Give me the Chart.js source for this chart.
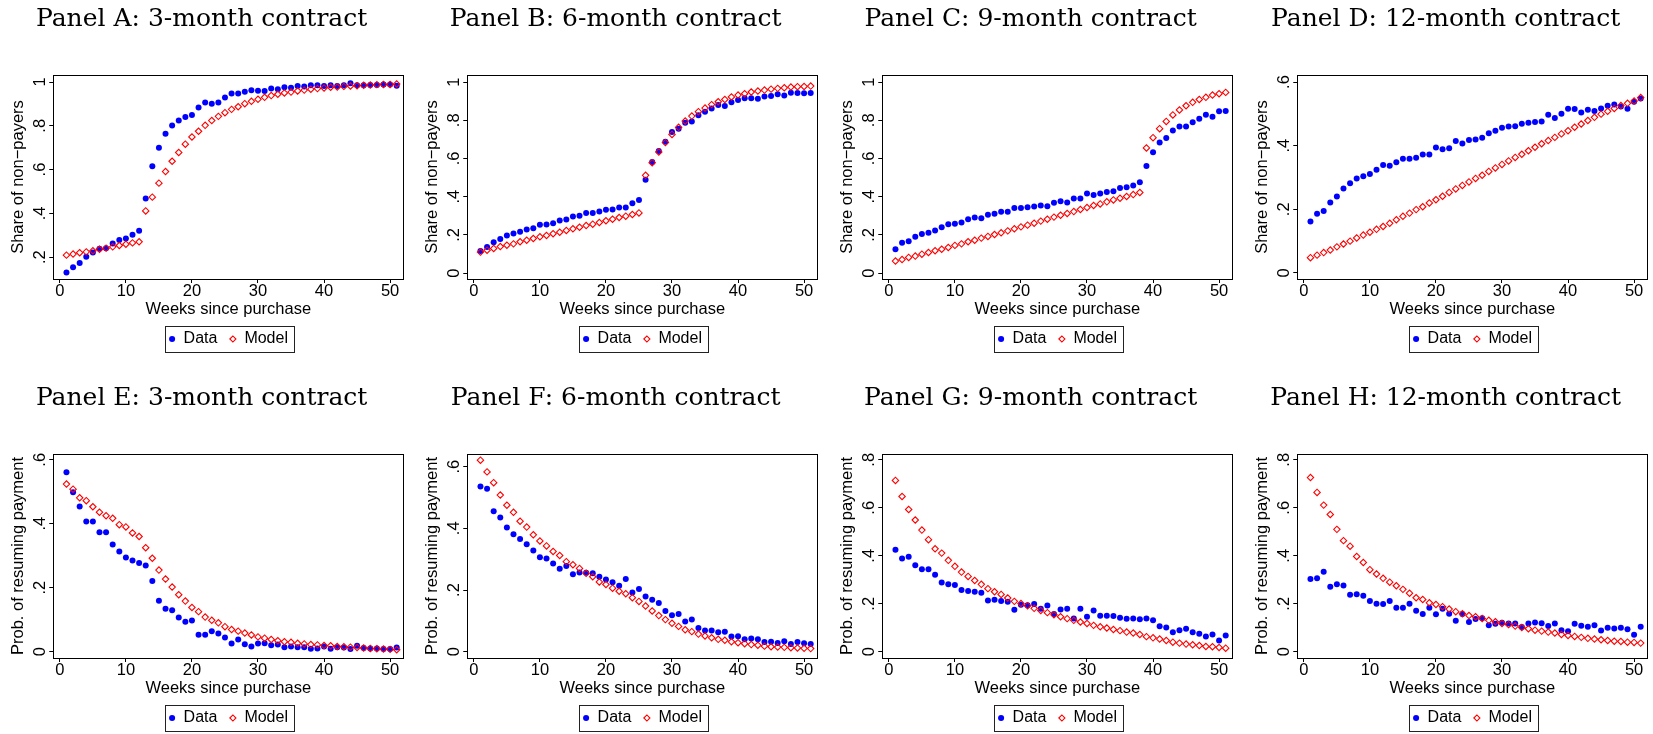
<!DOCTYPE html>
<html lang="en">
<head>
    <meta charset="UTF-8">
    <title>Share of non-payers and probability of resuming payment</title>
    <script src="https://cdn.jsdelivr.net/npm/chart.js"></script>
    <style>
        body { margin: 0; background: #fff; width: 1653px; height: 734px; overflow: hidden; position: relative; }
        canvas { position: absolute; }
    </style>
</head>
<body>
    <canvas id="panelA" width="409" height="357" style="left:0px;top:0px"></canvas>
    <canvas id="panelB" width="409" height="357" style="left:414px;top:0px"></canvas>
    <canvas id="panelC" width="409" height="357" style="left:829px;top:0px"></canvas>
    <canvas id="panelD" width="409" height="357" style="left:1244px;top:0px"></canvas>
    <canvas id="panelE" width="409" height="357" style="left:0px;top:379px"></canvas>
    <canvas id="panelF" width="409" height="357" style="left:414px;top:379px"></canvas>
    <canvas id="panelG" width="409" height="357" style="left:829px;top:379px"></canvas>
    <canvas id="panelH" width="409" height="357" style="left:1244px;top:379px"></canvas>

    <script>
        const weeks = [1, 2, 3, 4, 5, 6, 7, 8, 9, 10, 11, 12, 13, 14, 15, 16, 17, 18, 19, 20,
            21, 22, 23, 24, 25, 26, 27, 28, 29, 30, 31, 32, 33, 34, 35, 36, 37, 38, 39, 40,
            41, 42, 43, 44, 45, 46, 47, 48, 49, 50, 51];
        const xTicks = [0, 10, 20, 30, 40, 50];

        // Share of non-payers (top row)
        const dataA = [.130, .154, .173, .202, .221, .238, .240, .262, .278, .285, .302, .320, .468, .615, .700, .764, .801, .824, .840, .849,
            .884, .906, .901, .906, .929, .948, .947, .956, .962, .960, .959, .970, .967, .976, .974, .982, .979, .985, .985, .982,
            .985, .982, .985, .994, .985, .985, .986, .986, .989, .989, .983];
        const modelA = [.209, .214, .220, .224, .229, .236, .241, .247, .253, .259, .265, .270, .411, .474, .538, .591, .638, .678, .716, .749,
            .775, .802, .824, .843, .860, .875, .887, .901, .912, .921, .930, .938, .944, .950, .954, .959, .963, .967, .970, .973,
            .976, .977, .980, .982, .983, .985, .986, .988, .989, .989, .991];

        const dataB = [.115, .136, .162, .179, .197, .207, .216, .228, .235, .253, .254, .261, .275, .280, .296, .300, .314, .315, .322, .331,
            .333, .343, .343, .366, .383, .488, .582, .639, .688, .739, .756, .787, .793, .826, .845, .861, .880, .875, .894, .906,
            .915, .915, .913, .925, .927, .936, .930, .944, .943, .941, .943];
        const modelB = [.110, .120, .129, .139, .146, .153, .164, .172, .181, .190, .197, .206, .214, .223, .232, .240, .249, .256, .265, .274,
            .282, .291, .298, .307, .315, .512, .578, .634, .683, .726, .763, .796, .822, .845, .864, .882, .897, .909, .922, .932,
            .939, .948, .953, .958, .963, .967, .970, .974, .976, .977, .979];

        const dataC = [.125, .159, .166, .190, .204, .211, .223, .240, .256, .258, .265, .282, .291, .287, .305, .310, .321, .321, .341, .341,
            .345, .348, .354, .350, .368, .376, .369, .390, .390, .416, .409, .416, .425, .429, .446, .449, .458, .476, .561, .632,
            .683, .707, .747, .767, .767, .789, .808, .829, .819, .847, .848];
        const modelC = [.063, .071, .082, .089, .099, .108, .117, .125, .134, .145, .153, .164, .172, .183, .192, .202, .211, .221, .232, .242,
            .251, .261, .272, .282, .293, .303, .312, .322, .333, .343, .354, .362, .373, .383, .392, .401, .411, .422, .655, .709,
            .756, .794, .828, .854, .876, .894, .909, .920, .932, .939, .946];

        const dataD = [.162, .186, .195, .221, .240, .265, .282, .297, .304, .311, .324, .339, .337, .348, .359, .359, .362, .372, .372, .394,
            .389, .392, .415, .407, .418, .419, .425, .439, .447, .456, .460, .461, .469, .472, .474, .476, .497, .487, .500, .516,
            .515, .504, .513, .509, .517, .525, .529, .523, .516, .538, .548];
        const modelD = [.048, .056, .064, .072, .082, .091, .100, .110, .119, .128, .137, .146, .156, .167, .178, .188, .199, .208, .220, .230,
            .241, .253, .264, .275, .286, .297, .307, .319, .330, .341, .352, .363, .373, .384, .395, .406, .416, .426, .437, .447,
            .458, .468, .479, .489, .499, .508, .517, .526, .533, .540, .551];

        // Probability of resuming payment (bottom row)
        const dataE = [.561, .498, .454, .407, .407, .373, .373, .335, .313, .294, .285, .277, .269, .221, .159, .134, .129, .107, .093, .097,
            .053, .053, .064, .057, .044, .025, .038, .023, .016, .025, .026, .020, .022, .014, .016, .014, .014, .009, .010, .016,
            .009, .014, .013, .008, .018, .011, .010, .010, .008, .008, .013];
        const modelE = [.524, .508, .481, .472, .453, .436, .425, .417, .397, .390, .371, .360, .325, .292, .255, .227, .202, .178, .158, .138,
            .125, .108, .098, .090, .078, .069, .064, .058, .052, .046, .042, .038, .034, .031, .029, .026, .024, .022, .021, .019,
            .018, .016, .015, .014, .013, .011, .010, .009, .008, .007, .006];

        const dataF = [.536, .528, .455, .435, .403, .381, .365, .348, .328, .306, .302, .286, .269, .278, .251, .257, .256, .254, .243, .234,
            .225, .214, .236, .192, .203, .179, .168, .158, .132, .118, .122, .098, .104, .077, .069, .069, .063, .065, .049, .050,
            .040, .043, .040, .031, .032, .028, .034, .025, .031, .027, .025];
        const modelF = [.621, .583, .548, .508, .475, .452, .423, .404, .379, .359, .343, .325, .312, .292, .282, .270, .254, .243, .226, .218,
            .206, .196, .188, .175, .163, .148, .132, .117, .104, .092, .082, .071, .065, .057, .051, .045, .040, .037, .032, .029,
            .026, .023, .021, .018, .016, .015, .014, .013, .012, .011, .010];

        const dataG = [.425, .389, .396, .360, .344, .344, .321, .289, .281, .278, .257, .253, .250, .246, .214, .217, .211, .208, .175, .196,
            .194, .199, .179, .193, .157, .176, .179, .139, .179, .146, .172, .150, .150, .149, .142, .138, .139, .135, .139, .131,
            .106, .101, .081, .090, .096, .081, .075, .064, .072, .047, .068];
        const modelG = [.714, .647, .593, .549, .507, .467, .429, .411, .381, .356, .332, .314, .297, .281, .263, .250, .239, .224, .210, .201,
            .192, .181, .172, .163, .154, .146, .138, .131, .124, .118, .110, .104, .099, .093, .088, .082, .078, .072, .063, .058,
            .053, .047, .040, .036, .032, .029, .026, .022, .021, .018, .015];

        const dataH = [.303, .306, .333, .271, .281, .276, .238, .240, .233, .211, .200, .199, .211, .183, .183, .200, .171, .157, .183, .156,
            .179, .158, .129, .157, .124, .136, .140, .110, .117, .121, .118, .118, .103, .118, .122, .119, .107, .118, .090, .085,
            .117, .108, .104, .110, .089, .100, .097, .100, .094, .071, .104];
        const modelH = [.726, .664, .611, .572, .510, .463, .440, .397, .372, .342, .324, .306, .290, .275, .260, .244, .225, .218, .204, .197,
            .188, .178, .167, .158, .151, .146, .139, .131, .125, .118, .113, .107, .101, .096, .090, .086, .082, .078, .072, .068,
            .064, .060, .056, .053, .050, .047, .044, .043, .040, .039, .036];

        const ticksTo1 = [0, .2, .4, .6, .8, 1];
        const ticksTo06 = [0, .2, .4, .6];
        const ticksTo08 = [0, .2, .4, .6, .8];
        const ticksA = [.2, .4, .6, .8, 1];

        const sansFont = "'Liberation Sans', Arial, sans-serif";

        // Stata style tick labels: ".2" rather than "0.2"
        function stataLabel(v) {
            return String(+v.toFixed(2)).replace(/^0\./, '.');
        }

        // plot frame, vertical y tick labels and the legend box
        const stataLook = {
            id: 'stataLook',
            afterDraw(chart) {
                const ctx = chart.ctx;
                const a = chart.chartArea;
                const y = chart.scales.y;
                ctx.save();
                ctx.strokeStyle = '#000';
                ctx.lineWidth = 1;
                ctx.strokeRect(Math.round(a.left) + 0.5, Math.round(a.top) + 0.5,
                    Math.round(a.right - a.left), Math.round(a.bottom - a.top));

                ctx.fillStyle = '#000';
                ctx.font = '16.5px ' + sansFont;
                ctx.textAlign = 'center';
                ctx.textBaseline = 'alphabetic';
                y.ticks.forEach(t => {
                    ctx.save();
                    ctx.translate(a.left - 8.5, y.getPixelForValue(t.value));
                    ctx.rotate(-Math.PI / 2);
                    ctx.fillText(stataLabel(t.value), 0, 0);
                    ctx.restore();
                });

                const hb = chart.legend.legendHitBoxes;
                if (hb && hb.length) {
                    const left = Math.min(...hb.map(h => h.left)) - 4;
                    const right = Math.max(...hb.map(h => h.left + h.width)) + 6;
                    const top = hb[0].top - 5;
                    ctx.strokeStyle = '#222';
                    ctx.strokeRect(Math.round(left) + 0.5, Math.round(top) + 0.5,
                        Math.round(right - left), Math.round(hb[0].height + 10));
                }
                ctx.restore();
            }
        };

        function makePanel(id, title, yTitle, dataVals, modelVals, yMin, yMax, yTicks) {
            new Chart(document.getElementById(id), {
                type: 'scatter',
                data: {
                    datasets: [{
                        label: 'Data',
                        data: weeks.map((w, i) => ({ x: w, y: dataVals[i] })),
                        pointStyle: 'circle',
                        pointRadius: 3,
                        borderWidth: 0,
                        backgroundColor: '#0000ff',
                        borderColor: '#0000ff',
                        order: 1
                    }, {
                        label: 'Model',
                        data: weeks.map((w, i) => ({ x: w, y: modelVals[i] })),
                        pointStyle: 'rectRot',
                        pointRadius: 3.2,
                        borderWidth: 1.1,
                        backgroundColor: 'rgba(255,255,255,0)',
                        borderColor: '#ff0000',
                        order: 0
                    }]
                },
                options: {
                    responsive: false,
                    animation: false,
                    events: [],
                    layout: { padding: { left: 0, right: 5.7, top: 0, bottom: 0 } },
                    plugins: {
                        tooltip: { enabled: false },
                        title: {
                            display: true,
                            text: title,
                            color: '#000',
                            font: { family: "'DejaVu Serif', serif", size: 25, weight: 'normal', lineHeight: 1.2 },
                            padding: { top: 4, bottom: 41 }
                        },
                        legend: {
                            position: 'bottom',
                            fullSize: false,
                            labels: {
                                usePointStyle: true,
                                boxWidth: 7,
                                boxHeight: 4.3,
                                padding: 12,
                                color: '#000',
                                font: { family: sansFont, size: 16 },
                                sort: (a, b) => a.datasetIndex - b.datasetIndex
                            }
                        }
                    },
                    scales: {
                        x: {
                            type: 'linear',
                            min: -1,
                            max: 52,
                            afterBuildTicks: s => { s.ticks = xTicks.map(v => ({ value: v })); },
                            border: { display: false },
                            grid: { drawOnChartArea: false, drawTicks: true, tickLength: 4, color: '#000' },
                            ticks: { color: '#000', padding: 0, maxRotation: 0, autoSkip: false,
                                font: { family: sansFont, size: 16.5, lineHeight: 1 } },
                            title: {
                                display: true,
                                text: 'Weeks since purchase',
                                color: '#000',
                                font: { family: sansFont, size: 16.5, lineHeight: 1 },
                                padding: { top: 1.5, bottom: 1.5 }
                            }
                        },
                        y: {
                            type: 'linear',
                            min: yMin,
                            max: yMax,
                            afterBuildTicks: s => { s.ticks = yTicks.map(v => ({ value: v })); },
                            border: { display: false },
                            grid: { drawOnChartArea: false, drawTicks: true, tickLength: 4, color: '#000' },
                            ticks: { display: false },
                            title: {
                                display: true,
                                text: yTitle,
                                color: '#000',
                                font: { family: sansFont, size: 16.5, lineHeight: 1 },
                                padding: { top: 9.75, bottom: 23 }
                            }
                        }
                    }
                },
                plugins: [stataLook]
            });
        }

        const shareTitle = 'Share of non\u2212payers';
        const probTitle = 'Prob. of resuming payment';

        makePanel('panelA', 'Panel A: 3-month contract', shareTitle, dataA, modelA, 0.1, 1.032, ticksA);
        makePanel('panelB', 'Panel B: 6-month contract', shareTitle, dataB, modelB, -0.031, 1.037, ticksTo1);
        makePanel('panelC', 'Panel C: 9-month contract', shareTitle, dataC, modelC, -0.031, 1.037, ticksTo1);
        makePanel('panelD', 'Panel D: 12-month contract', shareTitle, dataD, modelD, -0.019, 0.622, ticksTo06);
        makePanel('panelE', 'Panel E: 3-month contract', probTitle, dataE, modelE, -0.02, 0.618, ticksTo06);
        makePanel('panelF', 'Panel F: 6-month contract', probTitle, dataF, modelF, -0.0205, 0.641, ticksTo06);
        makePanel('panelG', 'Panel G: 9-month contract', probTitle, dataG, modelG, -0.026, 0.824, ticksTo08);
        makePanel('panelH', 'Panel H: 12-month contract', probTitle, dataH, modelH, -0.026, 0.824, ticksTo08);
    </script>
</body>
</html>
